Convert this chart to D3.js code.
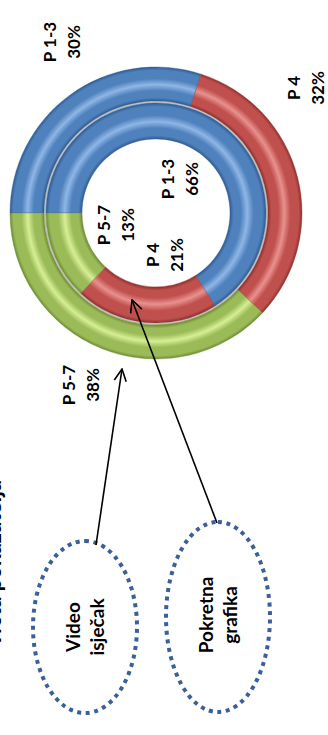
<!DOCTYPE html>
<html>
<head>
<meta charset="utf-8">
<script src="https://cdn.jsdelivr.net/npm/d3@7"></script>
<style>
  html, body { margin: 0; padding: 0; background: #fff; }
  svg { display: block; font-family: Lato, "Open Sans", sans-serif; }
</style>
</head>
<body>
<div id="chart"></div>
<script>
// Two donut rings, chart is printed turned 90 degrees counter-clockwise
const categories  = ['P 1-3', 'P 4', 'P 5-7'];
const outerValues = [30, 32, 38];
const innerValues = [66, 21, 13];
const calloutText = [['Video', 'isječak'], ['Pokretna', 'grafika']];
const titleText   = 'Vrsta pokazatelja';

const COLORS = {
  'P 1-3': { base: '#4F81BD', light: '#8FB6E6', dark: '#2F5C92' },
  'P 4':   { base: '#C0504D', light: '#E8918E', dark: '#8E302D' },
  'P 5-7': { base: '#9BBB59', light: '#D6EE94', dark: '#6F8C32' }
};

const W = 328, H = 735;
// local (unrotated) frame: 735 wide x 328 tall
const CX = 522, CY = 156;
const RINGS = [
  { key: 'outer', values: outerValues, r0: 112, r1: 146,
    labelOff: [[171, -94], [125, 150], [-172, -75]] },
  { key: 'inner', values: innerValues, r0: 74, r1: 110,
    labelOff: [[34, 24], [-42, 9], [-12, -40]] }
];

const svg = d3.select('#chart').append('svg')
  .attr('width', W).attr('height', H);
const defs = svg.append('defs');

const g = svg.append('g').attr('transform', `translate(0,${H}) rotate(-90)`);

// bevel-ish gradients per ring & colour (centred on the donut group origin)
RINGS.forEach(ring => {
  categories.forEach((c, i) => {
    const col = COLORS[c];
    const f = t => (ring.r0 + t * (ring.r1 - ring.r0)) / ring.r1;
    const grad = defs.append('radialGradient')
      .attr('id', `grad-${ring.key}-${i}`)
      .attr('gradientUnits', 'userSpaceOnUse')
      .attr('cx', 0).attr('cy', 0).attr('r', ring.r1);
    [[0, col.dark], [0.1, col.base], [0.3, col.base], [0.48, col.light],
     [0.66, col.base], [0.9, col.base], [1, col.dark]]
      .forEach(([t, c2]) => grad.append('stop')
        .attr('offset', f(t)).attr('stop-color', c2));
  });
});

// arrow marker
defs.append('marker')
  .attr('id', 'arrow')
  .attr('markerUnits', 'userSpaceOnUse')
  .attr('viewBox', '0 0 14 14')
  .attr('refX', 13).attr('refY', 7)
  .attr('markerWidth', 14).attr('markerHeight', 14)
  .attr('orient', 'auto')
  .append('path')
    .attr('d', 'M1,1 L13,7 L1,13')
    .attr('fill', 'none').attr('stroke', '#000').attr('stroke-width', 1.6);

const pie = d3.pie().sort(null).value(d => d).startAngle(0).endAngle(2 * Math.PI);
const donut = g.append('g').attr('transform', `translate(${CX},${CY})`);

// thin grey seam between the rings
donut.append('circle').attr('r', 111).attr('fill', 'none')
  .attr('stroke', '#c4c4c4').attr('stroke-width', 2);

RINGS.forEach(ring => {
  const arc = d3.arc().innerRadius(ring.r0).outerRadius(ring.r1);
  donut.selectAll(`.slice-${ring.key}`)
    .data(pie(ring.values))
    .join('path')
      .attr('class', `slice-${ring.key}`)
      .attr('d', arc)
      .attr('fill', (d, i) => `url(#grad-${ring.key}-${i})`)
      .attr('stroke', (d, i) => COLORS[categories[i]].dark)
      .attr('stroke-opacity', 0.5)
      .attr('stroke-width', 0.8);
});

// data labels
RINGS.forEach(ring => {
  ring.values.forEach((v, i) => {
    const [dx, dy] = ring.labelOff[i];
    const t = donut.append('text')
      .attr('text-anchor', 'middle')
      .style('font-size', '17px').style('font-weight', 700).style('fill', '#000');
    t.append('tspan').attr('x', dx).attr('y', dy - 6).text(categories[i]);
    t.append('tspan').attr('x', dx).attr('y', dy + 18).text(v + '%');
  });
});

// callout ellipses
const callouts = [
  { cx: 108, cy: 85, rx: 86, ry: 52, tx: 108, from: [190, 96], to: [366, 122] },
  { cx: 118, cy: 218, rx: 95, ry: 52, tx: 120, from: [212, 217], to: [435, 132] }
];

callouts.forEach((c, i) => {
  g.append('ellipse')
    .attr('cx', c.cx).attr('cy', c.cy).attr('rx', c.rx).attr('ry', c.ry)
    .attr('fill', 'none').attr('stroke', '#3A6098')
    .attr('stroke-width', 4).attr('stroke-dasharray', '4 4.6');
  const t = g.append('text').attr('text-anchor', 'middle')
    .style('font-size', '19px').style('font-weight', 700).style('fill', '#000');
  t.append('tspan').attr('x', c.tx).attr('y', c.cy - 5).text(calloutText[i][0]);
  t.append('tspan').attr('x', c.tx).attr('y', c.cy + 19).text(calloutText[i][1]);
  g.append('line')
    .attr('x1', c.from[0]).attr('y1', c.from[1])
    .attr('x2', c.to[0]).attr('y2', c.to[1])
    .attr('stroke', '#000').attr('stroke-width', 1.6)
    .attr('marker-end', 'url(#arrow)');
});

// title, mostly cut off at the page edge (as in the reference)
g.append('text')
  .attr('x', 255).attr('y', 1)
  .attr('text-anchor', 'end')
  .style('font-size', '22px').style('font-weight', 700).style('fill', '#000')
  .text(titleText);
</script>
</body>
</html>
